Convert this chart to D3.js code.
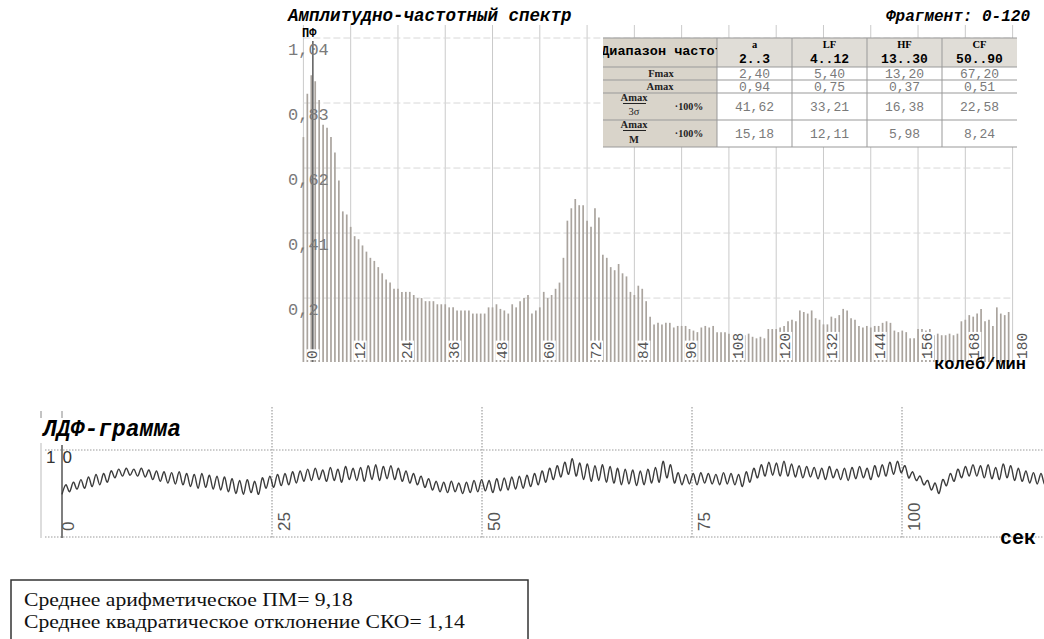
<!DOCTYPE html>
<html>
<head>
<meta charset="utf-8">
<script src="https://cdn.jsdelivr.net/npm/d3@7"></script>
<style>
body{margin:0;background:#fff;}
svg{display:block;}
</style>
</head>
<body>
<svg></svg>
<script>
// amplitude spectrum, one bar per 1 колеб/мин starting at 0
var spectrum = [
  0.72,0.86,0.92,0.90,0.84,0.76,0.75,0.72,0.67,0.58,
  0.48,0.47,0.43,0.40,0.39,0.37,0.35,0.33,0.32,0.30,
  0.28,0.26,0.25,0.23,0.23,0.22,0.22,0.22,0.21,0.20,
  0.20,0.19,0.19,0.19,0.18,0.18,0.18,0.17,0.17,0.16,
  0.16,0.16,0.16,0.15,0.15,0.15,0.15,0.17,0.17,0.18,
  0.165,0.16,0.15,0.18,0.17,0.19,0.20,0.21,0.15,0.16,
  0.17,0.22,0.20,0.21,0.23,0.25,0.33,0.45,0.49,0.52,
  0.50,0.50,0.45,0.43,0.49,0.46,0.34,0.33,0.30,0.29,
  0.31,0.28,0.27,0.22,0.21,0.24,0.23,0.19,0.14,0.115,
  0.12,0.115,0.12,0.12,0.105,0.11,0.11,0.11,0.10,0.095,
  0.09,0.105,0.11,0.105,0.11,0.09,0.09,0.09,0.085,0.09,
  0.085,0.085,0.08,0.085,0.075,0.07,0.075,0.07,0.10,0.10,
  0.10,0.105,0.11,0.125,0.13,0.125,0.16,0.155,0.15,0.16,
  0.135,0.13,0.115,0.115,0.14,0.135,0.145,0.165,0.16,0.135,
  0.13,0.11,0.105,0.11,0.105,0.11,0.11,0.12,0.125,0.12,
  0.095,0.09,0.095,0.09,0.07,0.07,0.10,0.10,0.095,0.10,
  0.08,0.085,0.08,0.08,0.085,0.08,0.085,0.125,0.13,0.145,
  0.14,0.15,0.165,0.125,0.13,0.11,0.17,0.15,0.145,0.155
];
var specTicks = [0,12,24,36,48,60,72,84,96,108,120,132,144,156,168,180];
var ampTicks = [0.2,0.41,0.62,0.83,1.04];
var ampLabels = ["0,2","0,41","0,62","0,83","1,04"];

var bandNames = ["a","LF","HF","CF"];
var bandRanges = ["2..3","4..12","13..30","50..90"];
var fmaxVals = ["2,40","5,40","13,20","67,20"];
var amaxVals = ["0,94","0,75","0,37","0,51"];
var sigmaPct = ["41,62","33,21","16,38","22,58"];
var meanPct = ["15,18","12,11","5,98","8,24"];

// ЛДФ-грамма, one value every 0.45 s
var ldfStep = 0.45;
var ldf = [
  4.9,6.0,5.2,6.3,5.5,6.6,5.6,6.9,5.8,7.2,6.0,7.3,6.3,7.6,6.8,7.8,7.0,7.9,7.1,7.8,7.0,7.9,
  6.9,7.7,6.6,7.6,6.4,7.5,6.2,7.4,6.1,7.5,6.0,7.3,5.8,7.2,5.6,7.3,5.7,7.1,5.5,7.0,5.4,6.9,
  5.2,6.7,5.0,6.5,4.9,6.6,5.1,6.4,4.9,6.8,5.6,7.0,5.7,7.2,5.9,7.3,6.0,7.5,6.2,7.6,6.4,7.8,
  6.5,7.9,6.6,7.7,6.4,8.0,6.5,7.8,6.3,8.1,6.6,7.9,6.5,8.0,6.4,8.2,6.6,8.3,6.5,8.1,6.7,8.2,
  6.6,7.9,6.4,7.6,6.2,7.3,6.0,7.0,5.7,6.7,5.4,6.4,5.2,6.3,5.1,6.4,5.2,6.2,5.0,6.3,5.1,6.5,
  5.2,6.6,5.3,6.5,5.1,6.7,5.3,6.8,5.4,6.9,5.5,7.0,5.6,7.1,5.8,7.3,6.0,7.6,6.3,7.9,6.6,8.2,
  6.9,8.6,7.2,9.0,7.0,8.5,6.6,8.4,6.4,8.2,6.5,8.3,6.3,8.1,6.2,7.9,6.0,7.8,6.1,7.7,5.9,7.6,
  6.0,7.8,6.2,8.0,6.3,8.7,6.8,8.3,6.2,7.4,6.0,7.2,6.1,7.3,6.0,7.4,6.2,7.3,6.1,7.2,6.0,7.4,
  6.1,7.3,6.0,7.2,5.8,7.5,6.3,7.9,6.8,8.3,7.0,8.6,7.1,8.5,7.0,8.7,7.0,8.4,6.9,8.2,6.8,8.1,
  6.9,8.0,6.7,7.9,6.6,8.1,6.8,7.8,6.6,7.9,6.5,8.0,6.7,8.1,6.8,7.9,6.6,8.2,6.9,8.3,7.0,8.6,
  7.2,8.7,7.4,8.2,6.8,7.5,6.5,7.0,6.0,6.5,5.4,6.2,5.0,6.6,5.9,7.3,6.4,7.8,6.8,8.1,7.0,8.3,
  7.0,8.2,6.8,8.3,6.7,8.0,6.6,8.4,6.8,8.2,6.5,7.9,6.4,7.6,6.2,7.4,6.1,7.3,6.0,7.2,6.1,7.3,
  6.0,7.1,6.2
];
var ldfTicks = [0,25,50,75,100];
var stats = ["Среднее арифметическое ПМ= 9,18","Среднее квадратическое отклонение СКО= 1,14"];

var mono = "'Liberation Mono','Courier New',monospace";
var sans = "'Liberation Sans',Arial,sans-serif";
var serif = "'Liberation Serif','Times New Roman',serif";

var svg = d3.select('svg')
            .attr('width',1044)
            .attr('height',639);

//////////////// spectrum
var xScale = d3.scaleLinear()
               .domain([0,180])
               .range([303.4,1012.6]);
var yScale = d3.scaleLinear()
               .domain([0,1.04])
               .range([360,38]);

var spec = svg.append('g').classed('spectrum',true);

spec.append('text')
    .attr('x',288).attr('y',21)
    .attr('font-family',mono).attr('font-size',17.5)
    .attr('font-weight','bold').attr('font-style','italic')
    .text('Амплитудно-частотный спектр');
spec.append('text')
    .attr('x',1030).attr('y',21)
    .attr('text-anchor','end')
    .attr('font-family',mono).attr('font-size',16)
    .attr('font-weight','bold').attr('font-style','italic')
    .text('Фрагмент: 0-120');

// grid
spec.append('g').selectAll('line')
    .data(specTicks)
    .enter()
    .append('line')
    .attr('x1',function(d){return xScale(d)})
    .attr('x2',function(d){return xScale(d)})
    .attr('y1',25)
    .attr('y2',362)
    .attr('stroke','#cacaca')
    .attr('stroke-width',1);
spec.append('g').selectAll('line')
    .data(ampTicks)
    .enter()
    .append('line')
    .attr('x1',xScale(0))
    .attr('x2',xScale(180))
    .attr('y1',function(d){return yScale(d)})
    .attr('y2',function(d){return yScale(d)})
    .attr('stroke','#d8d8d8')
    .attr('stroke-dasharray','7,3');

// bars
spec.append('g').selectAll('line')
    .data(spectrum)
    .enter()
    .append('line')
    .attr('x1',function(d,i){return xScale(i)})
    .attr('x2',function(d,i){return xScale(i)})
    .attr('y1',yScale(0)+2)
    .attr('y2',function(d){return yScale(d)})
    .attr('stroke','#aaa49e')
    .attr('stroke-width',1.7);

// dark line at the strongest low frequency (Fmax of band a)
spec.append('line')
    .attr('x1',xScale(2.4)).attr('x2',xScale(2.4))
    .attr('y1',yScale(1.04)+3).attr('y2',yScale(0)+2)
    .attr('stroke','#5a5a5a').attr('stroke-width',1.5);

// x labels, rotated
var xl = spec.append('g').selectAll('g')
    .data(specTicks)
    .enter()
    .append('g')
    .attr('transform',function(d){return 'translate('+(xScale(d)+14)+',359) rotate(-90)'});
xl.append('rect')
    .attr('x',-1).attr('y',-11)
    .attr('height',13)
    .attr('fill','#fff');
xl.append('text')
    .attr('font-family',mono).attr('font-size',14.5)
    .attr('fill','#555')
    .text(function(d){return d});
xl.each(function(){
  var g = d3.select(this);
  var w = g.select('text').node().getComputedTextLength();
  g.select('rect').attr('width',w+2);
});

// y labels
spec.append('g').selectAll('text')
    .data(ampTicks)
    .enter()
    .append('text')
    .attr('x',288)
    .attr('y',function(d){return yScale(d)+17})
    .attr('font-family',mono).attr('font-size',17)
    .attr('fill','#7a7a7a')
    .text(function(d,i){return ampLabels[i]});

spec.append('text')
    .attr('x',302).attr('y',37)
    .attr('font-family',mono).attr('font-size',12)
    .attr('font-weight','bold')
    .text('ПФ');

spec.append('text')
    .attr('x',1026).attr('y',369)
    .attr('text-anchor','end')
    .attr('font-family',mono).attr('font-size',17)
    .attr('font-weight','bold')
    .text('колеб/мин');

//////////////// table
var colX = [603,717,792,867,942,1017];
var rowY = [38,67,80,93,120,147];
var tbl = svg.append('g').classed('table',true);

tbl.append('rect')
   .attr('x',colX[0]).attr('y',rowY[0])
   .attr('width',colX[5]-colX[0]).attr('height',rowY[5]-rowY[0])
   .attr('fill','#fff');
tbl.append('rect')
   .attr('x',colX[0]).attr('y',rowY[0])
   .attr('width',colX[1]-colX[0]).attr('height',rowY[5]-rowY[0])
   .attr('fill','#d9d4ca');
tbl.append('rect')
   .attr('x',colX[1]).attr('y',rowY[0])
   .attr('width',colX[5]-colX[1]).attr('height',rowY[1]-rowY[0])
   .attr('fill','#e0ddd7');

tbl.selectAll('.hl')
   .data(rowY)
   .enter()
   .append('line')
   .attr('x1',colX[0]).attr('x2',colX[5])
   .attr('y1',function(d){return d}).attr('y2',function(d){return d})
   .attr('stroke','#999').attr('stroke-width',1);
tbl.selectAll('.vl')
   .data(colX.slice(1,5))
   .enter()
   .append('line')
   .attr('x1',function(d){return d}).attr('x2',function(d){return d})
   .attr('y1',rowY[0]).attr('y2',rowY[5])
   .attr('stroke','#999').attr('stroke-width',1);

tbl.append('clipPath').attr('id','c0')
   .append('rect')
   .attr('x',colX[0]).attr('y',rowY[0])
   .attr('width',colX[1]-colX[0]).attr('height',rowY[1]-rowY[0]);
tbl.append('text')
   .attr('clip-path','url(#c0)')
   .attr('x',(colX[0]+colX[1])/2+2).attr('y',55)
   .attr('text-anchor','middle')
   .attr('font-family',mono).attr('font-size',13.5)
   .attr('font-weight','bold')
   .text('Диапазон частот');

var colMid = function(i){return (colX[i+1]+colX[i+2])/2};
tbl.selectAll('.bn').data(bandNames).enter().append('text')
   .attr('x',function(d,i){return colMid(i)}).attr('y',48)
   .attr('text-anchor','middle')
   .attr('font-family',serif).attr('font-size',10.5).attr('font-weight','bold')
   .text(function(d){return d});
tbl.selectAll('.br').data(bandRanges).enter().append('text')
   .attr('x',function(d,i){return colMid(i)}).attr('y',63)
   .attr('text-anchor','middle')
   .attr('font-family',mono).attr('font-size',13).attr('font-weight','bold')
   .text(function(d){return d});

var rows = [fmaxVals,amaxVals,sigmaPct,meanPct];
var rowBase = [77.5,90.5,110.5,137.5];
rows.forEach(function(r,k){
  tbl.selectAll('.r'+k).data(r).enter().append('text')
     .attr('x',function(d,i){return colMid(i)}).attr('y',rowBase[k])
     .attr('text-anchor','middle')
     .attr('font-family',mono).attr('font-size',13)
     .attr('fill','#7a7a7a')
     .text(function(d){return d});
});

var lab = function(x,y,t,size){
  return tbl.append('text')
     .attr('x',x).attr('y',y)
     .attr('text-anchor','middle')
     .attr('font-family',serif).attr('font-size',size)
     .attr('font-weight','bold').attr('fill','#222')
     .text(t);
};
lab(661,77,'Fmax',10.5);
lab(660,90,'Amax',10.5);
lab(634,101,'Amax',10.5);
tbl.append('line').attr('x1',623).attr('x2',646).attr('y1',103.5).attr('y2',103.5).attr('stroke','#222');
lab(634,115,'3σ',10.5).attr('font-weight','normal');
lab(689,110,'·100%',10);
lab(634,128,'Amax',10.5);
tbl.append('line').attr('x1',623).attr('x2',646).attr('y1',130.5).attr('y2',130.5).attr('stroke','#222');
lab(634,143,'M',10.5);
lab(689,137,'·100%',10);

//////////////// ЛДФ-грамма
var tScale = d3.scaleLinear()
               .domain([0,120])
               .range([62,1070]);
var vScale = d3.scaleLinear()
               .domain([0,10])
               .range([537,450]);
var ldfG = svg.append('g').classed('ldf',true);

ldfG.append('text')
    .attr('x',43).attr('y',436)
    .attr('font-family',mono).attr('font-size',23)
    .attr('font-weight','bold').attr('font-style','italic')
    .text('ЛДФ-грамма');

ldfG.selectAll('.h').data([0,10]).enter().append('line')
    .attr('x1',45).attr('x2',1044)
    .attr('y1',function(d){return vScale(d)}).attr('y2',function(d){return vScale(d)})
    .attr('stroke','#9a9a9a').attr('stroke-dasharray','1.5,1.5');
ldfG.selectAll('.v').data(ldfTicks.slice(1)).enter().append('line')
    .attr('x1',function(d){return tScale(d)}).attr('x2',function(d){return tScale(d)})
    .attr('y1',407).attr('y2',538)
    .attr('stroke','#8a8a8a').attr('stroke-dasharray','1.5,1.5');
ldfG.append('line')
    .attr('x1',tScale(0)).attr('x2',tScale(0))
    .attr('y1',445).attr('y2',538)
    .attr('stroke','#555').attr('stroke-width',1.5);
ldfG.append('line')
    .attr('x1',41).attr('x2',41)
    .attr('y1',443).attr('y2',538)
    .attr('stroke','#bbb').attr('stroke-width',1);
ldfG.selectAll('.tk').data([41,62]).enter().append('line')
    .attr('x1',function(d){return d}).attr('x2',function(d){return d})
    .attr('y1',411).attr('y2',418)
    .attr('stroke','#888');

var ldfLine = d3.line()
    .x(function(d,i){return tScale(i*ldfStep)})
    .y(function(d){return vScale(d)})
    .curve(d3.curveCardinal);
ldfG.append('path')
    .datum(ldf)
    .attr('d',ldfLine)
    .attr('fill','none')
    .attr('stroke','#3c3c3c')
    .attr('stroke-width',1.4)
    .attr('stroke-linejoin','round');

ldfG.append('text')
    .attr('x',46).attr('y',463)
    .attr('font-family',sans).attr('font-size',17)
    .attr('letter-spacing',7)
    .attr('fill','#333')
    .text('10');

ldfG.selectAll('.xl').data(ldfTicks).enter().append('text')
    .attr('transform',function(d){return 'translate('+(tScale(d)+(d==0?12:18))+',531) rotate(-90)'})
    .attr('font-family',sans).attr('font-size',17)
    .attr('fill','#555')
    .text(function(d){return d});

ldfG.append('text')
    .attr('x',1000).attr('y',544)
    .attr('font-family',mono).attr('font-size',20)
    .attr('font-weight','bold')
    .text('сек');

//////////////// stats box
var box = svg.append('g').classed('stats',true);
box.append('rect')
   .attr('x',11).attr('y',580)
   .attr('width',517).attr('height',80)
   .attr('fill','#fff')
   .attr('stroke','#333').attr('stroke-width',1.5);
box.selectAll('text').data(stats).enter().append('text')
   .attr('transform',function(d,i){return 'translate(24,'+(606+i*22)+') scale(1.14,1)'})
   .attr('font-family',serif).attr('font-size',19)
   .attr('fill','#111')
   .text(function(d){return d});
</script>
</body>
</html>
